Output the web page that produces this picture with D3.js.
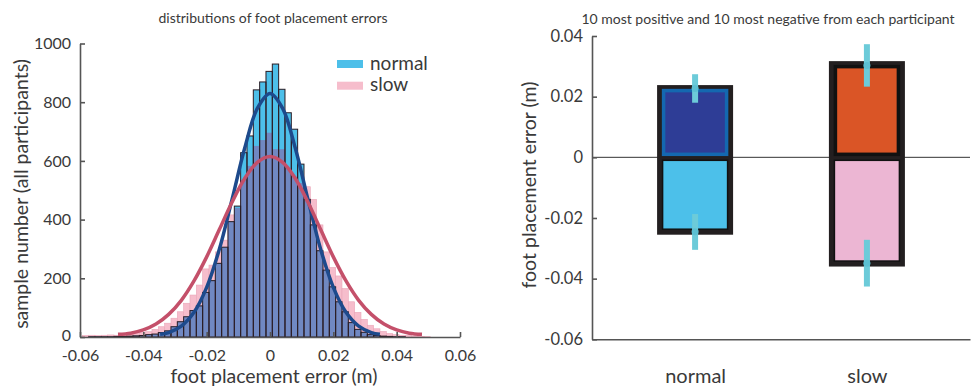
<!DOCTYPE html>
<html>
<head>
<meta charset="utf-8">
<script src="https://cdn.jsdelivr.net/npm/d3@7"></script>
<style>
body { margin: 0; background: #fff; }
svg text { font-family: Lato, "Open Sans", sans-serif; fill: #3a3a3a; }
</style>
</head>
<body>
<div id="chart"></div>
<script>
// ---- left panel: histogram data ----
const binStart = -0.05927
const binWidth = 0.002
const normalCounts = [0, 1, 1, 1, 1, 2, 2, 3, 4, 5, 8, 10, 15, 21, 35, 52, 69, 90, 106, 152,
  192, 251, 306, 393, 446, 628, 685, 842, 869, 905, 930, 844, 764, 708, 589, 469, 382, 294,
  228, 171, 120, 86, 49, 26, 16, 8, 5, 3, 2, 1, 1, 0, 0, 0, 0]
const slowCounts = [5, 6, 5, 6, 7, 6, 8, 9, 12, 15, 18, 26, 35, 47, 64, 86, 115, 143, 177, 232,
  245, 290, 330, 416, 440, 535, 583, 651, 671, 696, 640, 640, 575, 546, 525, 512, 469, 382,
  290, 237, 208, 165, 120, 84, 60, 40, 28, 19, 12, 8, 6, 5, 3, 2, 1]

// fitted curves
const normalFitX = [-0.0347, -0.032, -0.028, -0.024, -0.02, -0.016, -0.012, -0.008, -0.004, 0,
  0.004, 0.008, 0.012, 0.016, 0.02, 0.024, 0.028, 0.032, 0.0347]
const normalFitY = [9, 15, 37, 84, 169, 299, 468, 643, 779, 830, 779, 643, 468, 299, 169, 84, 37, 15, 9]
const slowFitX = [-0.048, -0.044, -0.04, -0.036, -0.032, -0.028, -0.024, -0.02, -0.016, -0.012,
  -0.008, -0.004, 0, 0.004, 0.008, 0.012, 0.016, 0.02, 0.024, 0.028, 0.032, 0.036, 0.04, 0.044, 0.048]
const slowFitY = [9, 13, 24, 44, 77, 125, 191, 273, 366, 459, 540, 595, 615, 595, 540, 459, 366,
  273, 191, 125, 77, 44, 24, 13, 9]

const histXTicks = [-0.06, -0.04, -0.02, 0, 0.02, 0.04, 0.06]
const histYTicks = [0, 200, 400, 600, 800, 1000]
const legendNames = ["normal", "slow"]

// ---- right panel: mean of extremes ----
const conditions = ["normal", "slow"]
const posMeans = [0.022, 0.0299]
const negMeans = [-0.0237, -0.0342]
const posErrMid = [0.0227, 0.0303]
const posErrLow = [0.018, 0.0233]
const posErrHigh = [0.0274, 0.0373]
const negErrMid = [-0.0245, -0.0349]
const negErrLow = [-0.0305, -0.0426]
const negErrHigh = [-0.0187, -0.0272]
const errYTicks = [-0.06, -0.04, -0.02, 0, 0.02, 0.04]

const cyan = "#4dbfe9", pink = "#f6bdcc", slate = "#7088c2"
const posFill = ["#2e3d96", "#da5526"]
const posEdge = ["#1468b0", "#111111"]
const negFill = ["#4cc0ea", "#ecb6d3"]

const svg = d3.select("#chart").append("svg")
  .attr("width", 977).attr("height", 388)

const fmt = d => d === 0 ? "0" : d.toFixed(2)

// ================= left panel =================
const xH = d3.scaleLinear().domain([-0.06, 0.06]).range([80, 460])
const yH = d3.scaleLinear().domain([0, 1000]).range([337, 43.5])

const bins = normalCounts.map((n, i) => ({
  x0: binStart + i * binWidth,
  normal: n,
  slow: slowCounts[i]
}))
const bw = xH(binWidth) - xH(0)

const hist = svg.append("g")

// slow bars (pink)
hist.selectAll(".slowBar")
  .data(bins.filter(d => d.slow > 0))
  .join("rect")
  .attr("x", d => xH(d.x0))
  .attr("width", bw)
  .attr("y", d => yH(d.slow))
  .attr("height", d => yH(0) - yH(d.slow))
  .attr("fill", pink)
  .attr("stroke", "#eaa6b8")
  .attr("stroke-width", 0.6)

// normal bars (cyan)
hist.selectAll(".normBar")
  .data(bins.filter(d => d.normal > 0))
  .join("rect")
  .attr("x", d => xH(d.x0))
  .attr("width", bw)
  .attr("y", d => yH(d.normal))
  .attr("height", d => yH(0) - yH(d.normal))
  .attr("fill", cyan)

// overlap of both
hist.selectAll(".overlap")
  .data(bins.filter(d => Math.min(d.normal, d.slow) > 0))
  .join("rect")
  .attr("x", d => xH(d.x0))
  .attr("width", bw)
  .attr("y", d => yH(Math.min(d.normal, d.slow)))
  .attr("height", d => yH(0) - yH(Math.min(d.normal, d.slow)))
  .attr("fill", slate)

// outlines of normal bars
hist.selectAll(".normEdge")
  .data(bins.filter(d => d.normal > 0))
  .join("rect")
  .attr("x", d => xH(d.x0))
  .attr("width", bw)
  .attr("y", d => yH(d.normal))
  .attr("height", d => yH(0) - yH(d.normal))
  .attr("fill", "none")
  .attr("stroke", "#2a1c24")
  .attr("stroke-width", 1)

// fitted curves
const fitLine = d3.line()
  .x(d => xH(d[0]))
  .y(d => yH(d[1]))
  .curve(d3.curveCatmullRom)

svg.append("path")
  .datum(normalFitX.map((x, i) => [x, normalFitY[i]]))
  .attr("d", fitLine)
  .attr("fill", "none")
  .attr("stroke", "#1d4a8c")
  .attr("stroke-width", 3.5)

svg.append("path")
  .datum(slowFitX.map((x, i) => [x, slowFitY[i]]))
  .attr("d", fitLine)
  .attr("fill", "none")
  .attr("stroke", "#c4506a")
  .attr("stroke-width", 3.5)

// axes
const xAxisH = svg.append("g")
  .attr("transform", "translate(0,337)")
  .call(d3.axisBottom(xH).tickValues(histXTicks).tickFormat(fmt)
    .tickSizeInner(-5).tickSizeOuter(0).tickPadding(13))
const yAxisH = svg.append("g")
  .attr("transform", "translate(80,0)")
  .call(d3.axisLeft(yH).tickValues(histYTicks).tickFormat(d3.format("d"))
    .tickSizeInner(-5).tickSizeOuter(0).tickPadding(9))

;[xAxisH, yAxisH].forEach(g => {
  g.selectAll("path, line").attr("stroke", "#555").attr("stroke-width", 1.6)
  g.selectAll("text").style("font-size", "16px").attr("fill", "#3a3a3a")
})
// keep the "0" count label clear of the x tick labels
yAxisH.selectAll("text").filter(d => d === 0).attr("dy", "0.2em")

svg.append("text")
  .attr("x", 273).attr("y", 22.5)
  .attr("text-anchor", "middle")
  .style("font-size", "14px").attr("fill", "#222")
  .text("distributions of foot placement errors")

svg.append("text")
  .attr("x", 274).attr("y", 383)
  .attr("text-anchor", "middle")
  .style("font-size", "19.5px")
  .text("foot placement error (m)")

svg.append("text")
  .attr("transform", "translate(28,194) rotate(-90)")
  .attr("text-anchor", "middle")
  .style("font-size", "19.5px")
  .text("sample number (all participants)")

// legend
const legend = svg.append("g")
legend.selectAll("rect")
  .data(legendNames)
  .join("rect")
  .attr("x", 337).attr("width", 26)
  .attr("y", (d, i) => 60 + i * 21.7).attr("height", 8)
  .attr("fill", (d, i) => i === 0 ? cyan : pink)
legend.selectAll("text")
  .data(legendNames)
  .join("text")
  .attr("x", 370)
  .attr("y", (d, i) => 70 + i * 21)
  .style("font-size", "19px").attr("fill", "#222")
  .text(d => d)

// ================= right panel =================
const xE = d3.scalePoint().domain(conditions).range([592, 970]).padding(0.6)
const yE = d3.scaleLinear().domain([-0.06, 0.04]).range([339.3, 36])

// zero line
svg.append("line")
  .attr("x1", 592).attr("x2", 970)
  .attr("y1", yE(0)).attr("y2", yE(0))
  .attr("stroke", "#333").attr("stroke-width", 1)

const bars = svg.append("g")
conditions.forEach((c, i) => {
  const cx = xE(c)
  bars.append("rect")
    .attr("x", cx - 38).attr("width", 76)
    .attr("y", yE(posMeans[i]) - 5.5)
    .attr("height", yE(negMeans[i]) - yE(posMeans[i]) + 11)
    .attr("fill", "#231f20")
  bars.append("rect")
    .attr("x", cx - 31.5).attr("width", 63)
    .attr("y", yE(posMeans[i]))
    .attr("height", yE(0) - yE(posMeans[i]) - 3)
    .attr("fill", posFill[i])
    .attr("stroke", posEdge[i])
    .attr("stroke-width", 3.5)
  bars.append("rect")
    .attr("x", cx - 32.5).attr("width", 65)
    .attr("y", yE(0) + 3)
    .attr("height", yE(negMeans[i]) - yE(0) - 3)
    .attr("fill", negFill[i])
    .attr("stroke", "#111")
    .attr("stroke-width", 1.5)
})

// error bars
const errs = svg.append("g")
conditions.forEach((c, i) => {
  const cx = xE(c)
  ;[[posErrLow[i], posErrHigh[i], posErrMid[i]], [negErrLow[i], negErrHigh[i], negErrMid[i]]]
    .forEach(e => {
      errs.append("line")
        .attr("x1", cx).attr("x2", cx)
        .attr("y1", yE(e[0])).attr("y2", yE(e[1]))
        .attr("stroke", "#6ccbd9").attr("stroke-width", 6)
      errs.append("circle")
        .attr("cx", cx).attr("cy", yE(e[2])).attr("r", 3.5)
        .attr("fill", "#5cc0d2")
    })
})

const yAxisE = svg.append("g")
  .attr("transform", "translate(592,0)")
  .call(d3.axisLeft(yE).tickValues(errYTicks).tickFormat(fmt)
    .tickSizeInner(-5).tickSizeOuter(0).tickPadding(9))
yAxisE.selectAll("path, line").attr("stroke", "#555").attr("stroke-width", 1.6)
yAxisE.selectAll("text").style("font-size", "16.5px").attr("fill", "#3a3a3a")

const xAxisE = svg.append("g")
  .attr("transform", "translate(0,339.3)")
  .call(d3.axisBottom(xE).tickSizeInner(0).tickSizeOuter(0).tickPadding(30))
xAxisE.selectAll("path").attr("stroke", "#555").attr("stroke-width", 1.6)
xAxisE.selectAll("text").style("font-size", "20px").attr("fill", "#3a3a3a")

svg.append("text")
  .attr("x", 768).attr("y", 24)
  .attr("text-anchor", "middle")
  .style("font-size", "14px").attr("fill", "#222")
  .text("10 most positive and 10 most negative from each participant")

svg.append("text")
  .attr("transform", "translate(536,185) rotate(-90)")
  .attr("text-anchor", "middle")
  .style("font-size", "19.5px")
  .text("foot placement error (m)")
</script>
</body>
</html>
